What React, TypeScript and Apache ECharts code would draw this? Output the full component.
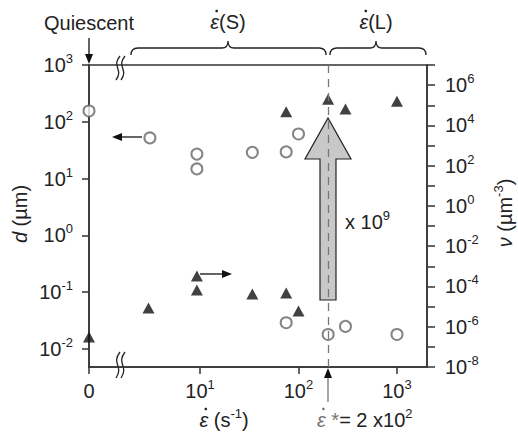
import React, { useEffect, useRef } from "react";
import * as echarts from "echarts";

// ---- data ----
// strain rate (s^-1); 0 = quiescent
const circleRates = [0, 3.1, 9.3, 9.3, 34, 75, 100, 75, 200, 300, 1000];
// d (µm)
const dValues = [155, 52, 27, 14.8, 29, 29.5, 61, 0.029, 0.018, 0.025, 0.018];
const triangleRates = [0, 3, 9.3, 9.3, 34, 75, 100, 75, 200, 300, 1000];
// nu (µm^-3)
const nuValues = [3.1e-7, 8.5e-6, 3.3e-4, 6.6e-5, 4.2e-5, 4.7e-5, 6e-6, 4.7e4, 2.0e5, 6.5e4, 1.6e5];
const criticalRate = 200;
const xTickExps = [1, 2, 3];
const leftTickExps = [-2, -1, 0, 1, 2, 3];
const rightTickExps = [-8, -7, -6, -5, -4, -3, -2, -1, 0, 1, 2, 3, 4, 5, 6, 7];
const rightLabelExps = [-8, -6, -4, -2, 0, 2, 4, 6];

const XZERO = -0.127; // axis position used for rate = 0
const XMAX = 3.305;
const LEFT_MIN = -2.317;
const LEFT_MAX = 3;
const RIGHT_MIN = -8;
const RIGHT_MAX = 7;

const FF = "'Liberation Sans', Arial, Helvetica, sans-serif";
const TXT = "#222";
const AX = "#333";
const GREY_EPS = "#777";

const toX = (r: number) => (r === 0 ? XZERO : Math.log10(r));

const tok = (size: number, extra: any = {}) => ({
  fontSize: size,
  fontFamily: FF,
  color: TXT,
  fill: TXT,
  ...extra,
});

const axisRich = {
  b: tok(20, { lineHeight: 26 }),
  s: tok(13, { lineHeight: 10, verticalAlign: "top" }),
};

const gRich = {
  b: tok(20, { lineHeight: 26 }),
  s: tok(13, { lineHeight: 10, verticalAlign: "top" }),
  e: tok(20, { lineHeight: 26, fontStyle: "italic" }),
  eg: tok(20, { lineHeight: 26, fontStyle: "italic", fill: GREY_EPS, color: GREY_EPS }),
  g: tok(20, { lineHeight: 26, fill: GREY_EPS, color: GREY_EPS }),
  i: tok(20, { lineHeight: 26, fontStyle: "italic" }),
};

let measureCtx: CanvasRenderingContext2D | null = null;
function tw(text: string, size: number, italic = false) {
  if (!measureCtx) measureCtx = document.createElement("canvas").getContext("2d");
  if (!measureCtx) return text.length * size * 0.55;
  measureCtx.font = `${italic ? "italic " : ""}${size}px ${FF}`;
  return measureCtx.measureText(text).width;
}

type Part = { t: string; s: "b" | "s" | "e" | "eg" | "g" | "i" };
function partWidth(p: Part) {
  const size = p.s === "s" ? 13 : 20;
  const italic = p.s === "e" || p.s === "eg" || p.s === "i";
  return tw(p.t, size, italic);
}

// text whose first part is an epsilon receiving a dot above
function epsText(x: number, y: number, align: "left" | "center", parts: Part[], dotColor: string) {
  const total = parts.reduce((a, p) => a + partWidth(p), 0);
  const left = align === "center" ? x - total / 2 : x;
  const epsW = tw("\u03b5", 20, true);
  return [
    {
      type: "text",
      x: left,
      y,
      style: {
        text: parts.map((p) => `{${p.s}|${p.t}}`).join(""),
        rich: gRich,
        align: "left",
        verticalAlign: "middle",
        font: `20px ${FF}`,
      },
      silent: true,
    },
    {
      type: "circle",
      shape: { cx: left + epsW * 0.5 + 2, cy: y - 11, r: 1.3 },
      style: { fill: dotColor },
      silent: true,
    },
  ];
}

function braceD(x0: number, x1: number, xm: number, y: number) {
  return `M ${x0} ${y + 7} Q ${x0} ${y} ${x0 + 7} ${y} L ${xm - 6} ${y} Q ${xm} ${y} ${xm} ${y - 7} Q ${xm} ${y} ${xm + 6} ${y} L ${x1 - 7} ${y} Q ${x1} ${y} ${x1} ${y + 7}`;
}

let registered = false;
function registerShapes() {
  if (registered) return;
  registered = true;
  echarts.graphic.registerShape("braceS", echarts.graphic.extendPath(braceD(131, 326, 228, 48), {}) as any);
  echarts.graphic.registerShape("braceL", echarts.graphic.extendPath(braceD(330, 426, 376, 48), {}) as any);
}

function arrow(x1: number, y1: number, x2: number, y2: number, color = "#111", lineColor = "#111") {
  const dx = x2 - x1;
  const dy = y2 - y1;
  const len = Math.sqrt(dx * dx + dy * dy);
  const ux = dx / len;
  const uy = dy / len;
  const hl = 10;
  const hw = 4;
  const bx = x2 - ux * hl;
  const by = y2 - uy * hl;
  return [
    {
      type: "line",
      shape: { x1, y1, x2: bx, y2: by },
      style: { stroke: lineColor, lineWidth: 1.3 },
      silent: true,
    },
    {
      type: "polygon",
      shape: {
        points: [
          [x2, y2],
          [bx - uy * hw, by + ux * hw],
          [bx + uy * hw, by - ux * hw],
        ],
      },
      style: { fill: color, stroke: "none" },
      silent: true,
    },
  ];
}

function breakMark(cx: number, top: number, bottom: number) {
  const h = bottom - top;
  return [0, 5].map((off) => ({
    type: "bezierCurve",
    shape: {
      x1: cx + off + 3,
      y1: top,
      cpx1: cx + off - 6,
      cpy1: top + h * 0.45,
      cpx2: cx + off + 7,
      cpy2: top + h * 0.55,
      x2: cx + off - 1,
      y2: bottom,
    },
    style: { stroke: "#222", lineWidth: 1.3, fill: "none" },
    silent: true,
  }));
}

export default function App() {
  const ref = useRef<HTMLDivElement>(null);

  useEffect(() => {
    if (!ref.current) return;
    registerShapes();
    const chart = echarts.init(ref.current, undefined, { renderer: "svg" });

    const xTickPos = [XZERO, ...xTickExps];

    const option: any = {
      animation: false,
      grid: {
        left: 89,
        right: 91,
        top: 65,
        bottom: 65,
        show: true,
        borderColor: AX,
        borderWidth: 1.5,
        backgroundColor: "transparent",
      },
      xAxis: {
        type: "value",
        min: XZERO,
        max: XMAX,
        splitLine: { show: false },
        axisLine: { onZero: false, lineStyle: { color: AX, width: 1.5 } },
        axisTick: { customValues: xTickPos, length: 7, lineStyle: { color: AX, width: 1.5 } },
        axisLabel: {
          customValues: xTickPos,
          margin: 11,
          formatter: (v: number) =>
            Math.abs(v - XZERO) < 1e-6 ? "{b|0}" : `{b|10}{s|${Math.round(v)}}`,
          rich: axisRich,
        },
      },
      yAxis: [
        {
          type: "value",
          min: LEFT_MIN,
          max: LEFT_MAX,
          splitLine: { show: false },
          axisLine: { show: true, onZero: false, lineStyle: { color: AX, width: 1.5 } },
          axisTick: { show: true, customValues: leftTickExps, length: 7, lineStyle: { color: AX, width: 1.5 } },
          axisLabel: {
            customValues: leftTickExps,
            margin: 16,
            formatter: (v: number) => `{b|10}{s|${Math.round(v)}}`,
            rich: axisRich,
          },
        },
        {
          type: "value",
          position: "right",
          min: RIGHT_MIN,
          max: RIGHT_MAX,
          splitLine: { show: false },
          axisLine: { show: true, onZero: false, lineStyle: { color: AX, width: 1.5 } },
          axisTick: { show: true, customValues: rightTickExps, length: 8, lineStyle: { color: AX, width: 1.5 } },
          axisLabel: {
            customValues: rightLabelExps,
            margin: 18,
            formatter: (v: number) => `{b|10}{s|${Math.round(v)}}`,
            rich: axisRich,
          },
        },
      ],
      series: [
        {
          type: "scatter",
          yAxisIndex: 0,
          clip: false,
          symbol: "emptyCircle",
          symbolSize: 11,
          itemStyle: { color: "#666", borderWidth: 1.1 },
          data: circleRates.map((r, i) => [toX(r), Math.log10(dValues[i])]),
          z: 3,
        },
        {
          type: "scatter",
          yAxisIndex: 1,
          clip: false,
          symbol: "triangle",
          symbolSize: [12, 11],
          itemStyle: { color: "#111" },
          data: triangleRates.map((r, i) => [toX(r), Math.log10(nuValues[i])]),
          z: 4,
          markLine: {
            silent: true,
            symbol: "none",
            label: { show: false },
            lineStyle: { color: "#777", type: [8, 6], width: 1.3 },
            data: [{ xAxis: Math.log10(criticalRate) }],
          },
        },
      ],
      graphic: [
        // big grey arrow
        {
          type: "polygon",
          z: 1,
          shape: {
            points: [
              [320, 300],
              [336, 300],
              [336, 159],
              [351, 159],
              [328, 118],
              [305, 159],
              [320, 159],
            ],
          },
          style: { fill: "#c8c8c8", stroke: "#222", lineWidth: 1.2 },
          silent: true,
        },
        {
          type: "text",
          x: 345,
          y: 222,
          style: { text: "{b|x 10}{s|9}", rich: gRich, align: "left", verticalAlign: "middle", font: `20px ${FF}` },
        },
        // top annotations
        {
          type: "text",
          x: 89,
          y: 23,
          style: { text: "Quiescent", fill: TXT, font: `20px ${FF}`, align: "center", verticalAlign: "middle" },
        },
        ...arrow(89, 38, 89, 64),
        { type: "braceS", style: { stroke: "#222", fill: "none", lineWidth: 1.3 }, silent: true },
        { type: "braceL", style: { stroke: "#222", fill: "none", lineWidth: 1.3 }, silent: true },
        ...epsText(228, 22, "center", [{ t: "\u03b5", s: "e" }, { t: "(S)", s: "b" }], TXT),
        ...epsText(376, 22, "center", [{ t: "\u03b5", s: "e" }, { t: "(L)", s: "b" }], TXT),
        ...breakMark(117, 56, 80),
        ...breakMark(117, 352, 378),
        // small arrows
        ...arrow(142, 137, 112, 137),
        ...arrow(200, 274, 232, 274),
        // critical rate arrow
        ...arrow(328, 402, 328, 368, "#111", "#777"),
        ...epsText(
          317,
          420,
          "left",
          [
            { t: "\u03b5", s: "eg" },
            { t: " *", s: "g" },
            { t: "= 2 x10", s: "b" },
            { t: "2", s: "s" },
          ],
          GREY_EPS
        ),
        ...epsText(
          224,
          420,
          "center",
          [
            { t: "\u03b5", s: "e" },
            { t: " (s", s: "b" },
            { t: "-1", s: "s" },
            { t: ")", s: "b" },
          ],
          TXT
        ),
        // axis titles
        {
          type: "text",
          x: 20,
          y: 214,
          rotation: Math.PI / 2,
          style: { text: "{i|d}{b| (µm)}", rich: gRich, align: "center", verticalAlign: "middle", font: `20px ${FF}` },
        },
        {
          type: "text",
          x: 505,
          y: 213,
          rotation: Math.PI / 2,
          style: {
            text: "{i|\u03bd}{b| (µm}{s|-3}{b|)}",
            rich: gRich,
            align: "center",
            verticalAlign: "middle",
            font: `20px ${FF}`,
          },
        },
      ],
    };

    chart.setOption(option);
    return () => chart.dispose();
  }, []);

  return <div ref={ref} style={{ width: 518, height: 432, position: "absolute", left: 0, top: 0, background: "#fff" }} />;
}
